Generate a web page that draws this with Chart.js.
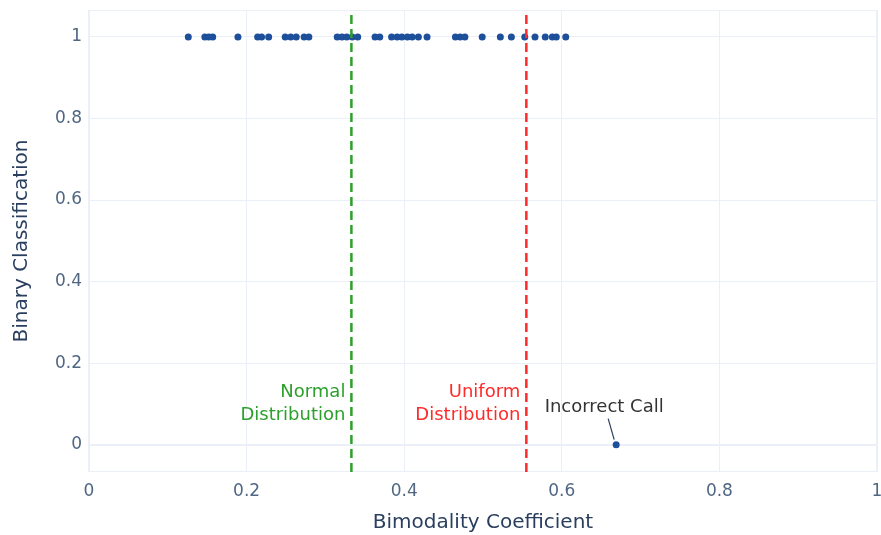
<!DOCTYPE html>
<html>
<head>
<meta charset="utf-8">
<script src="https://cdn.jsdelivr.net/npm/chart.js@4/dist/chart.umd.min.js"></script>
<style>
    html, body { margin: 0; padding: 0; background: #ffffff; }
    #wrap { width: 881px; height: 535px; }
</style>
</head>
<body>
<div id="wrap"><canvas id="bcChart" width="881" height="535"></canvas></div>
<script>
// bimodality coefficient per sample, with its binary call
const coefCorrect = [
    0.126, 0.147, 0.152, 0.157, 0.189, 0.214, 0.219, 0.228, 0.249, 0.256,
    0.263, 0.273, 0.279, 0.315, 0.321, 0.327, 0.334, 0.341, 0.363, 0.369,
    0.384, 0.391, 0.397, 0.404, 0.410, 0.418, 0.429, 0.465, 0.471, 0.477,
    0.499, 0.522, 0.536, 0.553, 0.566, 0.579, 0.588, 0.593, 0.605
];
const classCorrect = [
    1, 1, 1, 1, 1, 1, 1, 1, 1, 1,
    1, 1, 1, 1, 1, 1, 1, 1, 1, 1,
    1, 1, 1, 1, 1, 1, 1, 1, 1, 1,
    1, 1, 1, 1, 1, 1, 1, 1, 1
];
const coefIncorrect = [0.669];
const classIncorrect = [0];

const normalThreshold = 0.333;
const uniformThreshold = 0.555;

const xTicks = [0, 0.2, 0.4, 0.6, 0.8, 1];
const yTicks = [0, 0.2, 0.4, 0.6, 0.8, 1];
const yMin = -0.067;
const yMax = 1.066;

const pointColor = '#1d4f9b';
const gridColor = '#ebf0f8';
const tickColor = '#506784';
const titleColor = '#2a3f5f';
const fontFamily = '"DejaVu Sans", Verdana, sans-serif';

function toPoints(xs, ys) {
    const pts = [];
    for (let i = 0; i < xs.length; i++) {
        pts.push({ x: xs[i], y: ys[i] });
    }
    return pts;
}

function fmtTick(v) {
    return String(Math.round(v * 10) / 10);
}

// text labels next to the threshold lines and the wrong call
const labelPlugin = {
    id: 'labelPlugin',
    beforeDraw(chart) {
        const a = chart.chartArea;
        const ctx = chart.ctx;
        ctx.save();
        ctx.strokeStyle = gridColor;
        ctx.lineWidth = 1;
        ctx.strokeRect(a.left + 0.5, a.top + 0.5, a.right - a.left - 1, a.bottom - a.top - 1);
        ctx.restore();
    },
    afterDatasetsDraw(chart) {
        const ctx = chart.ctx;
        const xs = chart.scales.x;
        const ys = chart.scales.y;
        ctx.save();
        ctx.font = '18px ' + fontFamily;
        ctx.textBaseline = 'middle';

        const yMid = ys.getPixelForValue(0.1);

        ctx.textAlign = 'right';
        ctx.fillStyle = '#2ca02c';
        let xp = xs.getPixelForValue(normalThreshold) - 6;
        ctx.fillText('Normal', xp, yMid - 12);
        ctx.fillText('Distribution', xp, yMid + 11);

        ctx.fillStyle = '#ff2b2b';
        xp = xs.getPixelForValue(uniformThreshold) - 6;
        ctx.fillText('Uniform', xp, yMid - 12);
        ctx.fillText('Distribution', xp, yMid + 11);

        // incorrect call annotation with its arrow line
        const px = xs.getPixelForValue(coefIncorrect[0]);
        const py = ys.getPixelForValue(classIncorrect[0]);
        ctx.textAlign = 'center';
        ctx.fillStyle = '#333333';
        ctx.fillText('Incorrect Call', px - 12, py - 37);
        ctx.strokeStyle = '#2a3f5f';
        ctx.lineWidth = 1.2;
        ctx.beginPath();
        ctx.moveTo(px - 8, py - 26);
        ctx.lineTo(px - 2, py - 5);
        ctx.stroke();
        ctx.restore();
    }
};

document.addEventListener('DOMContentLoaded', () => {
    const ctx = document.getElementById('bcChart').getContext('2d');
    new Chart(ctx, {
        type: 'scatter',
        data: {
            datasets: [{
                label: 'Normal threshold',
                data: toPoints([normalThreshold, normalThreshold], [yMin, yMax]),
                showLine: true,
                borderColor: '#2ca02c',
                borderWidth: 2.5,
                borderDash: [9, 5],
                pointRadius: 0
            }, {
                label: 'Uniform threshold',
                data: toPoints([uniformThreshold, uniformThreshold], [yMin, yMax]),
                showLine: true,
                borderColor: '#ff2b2b',
                borderWidth: 2.5,
                borderDash: [9, 5],
                pointRadius: 0
            }, {
                label: 'Samples',
                data: toPoints(coefCorrect, classCorrect),
                backgroundColor: pointColor,
                borderWidth: 0,
                pointRadius: 3.5
            }, {
                label: 'Incorrect',
                data: toPoints(coefIncorrect, classIncorrect),
                backgroundColor: pointColor,
                borderWidth: 0,
                pointRadius: 3.5
            }]
        },
        options: {
            responsive: false,
            animation: false,
            layout: { padding: { top: 10, right: 4, bottom: 0, left: 0 } },
            plugins: {
                legend: { display: false },
                tooltip: { enabled: false }
            },
            scales: {
                x: {
                    type: 'linear',
                    min: 0,
                    max: 1,
                    afterBuildTicks(scale) {
                        scale.ticks = xTicks.map(v => ({ value: v }));
                    },
                    afterFit(scale) {
                        scale.height = 63;
                        scale.paddingLeft = 0;
                        scale.paddingRight = 0;
                    },
                    grid: {
                        color: gridColor,
                        lineWidth: c => (c.tick && c.tick.value === 0 ? 2 : 1),
                        drawTicks: false
                    },
                    border: { display: false },
                    ticks: {
                        color: tickColor,
                        font: { family: fontFamily, size: 17 },
                        padding: 9,
                        callback: v => fmtTick(v)
                    },
                    title: {
                        display: true,
                        text: 'Bimodality Coefficient',
                        color: titleColor,
                        font: { family: fontFamily, size: 20 },
                        padding: { top: 0, bottom: 0 }
                    }
                },
                y: {
                    type: 'linear',
                    min: yMin,
                    max: yMax,
                    afterBuildTicks(scale) {
                        scale.ticks = yTicks.map(v => ({ value: v }));
                    },
                    afterFit(scale) {
                        scale.width = 89;
                        scale.paddingTop = 0;
                        scale.paddingBottom = 0;
                    },
                    grid: {
                        color: gridColor,
                        lineWidth: c => (c.tick && c.tick.value === 0 ? 2 : 1),
                        drawTicks: false
                    },
                    border: { display: false },
                    ticks: {
                        color: tickColor,
                        font: { family: fontFamily, size: 17 },
                        padding: 7,
                        callback: v => fmtTick(v)
                    },
                    title: {
                        display: true,
                        text: 'Binary Classification',
                        color: titleColor,
                        font: { family: fontFamily, size: 20 },
                        padding: { top: 10, bottom: 0 }
                    }
                }
            }
        },
        plugins: [labelPlugin]
    });
});
</script>
</body>
</html>
